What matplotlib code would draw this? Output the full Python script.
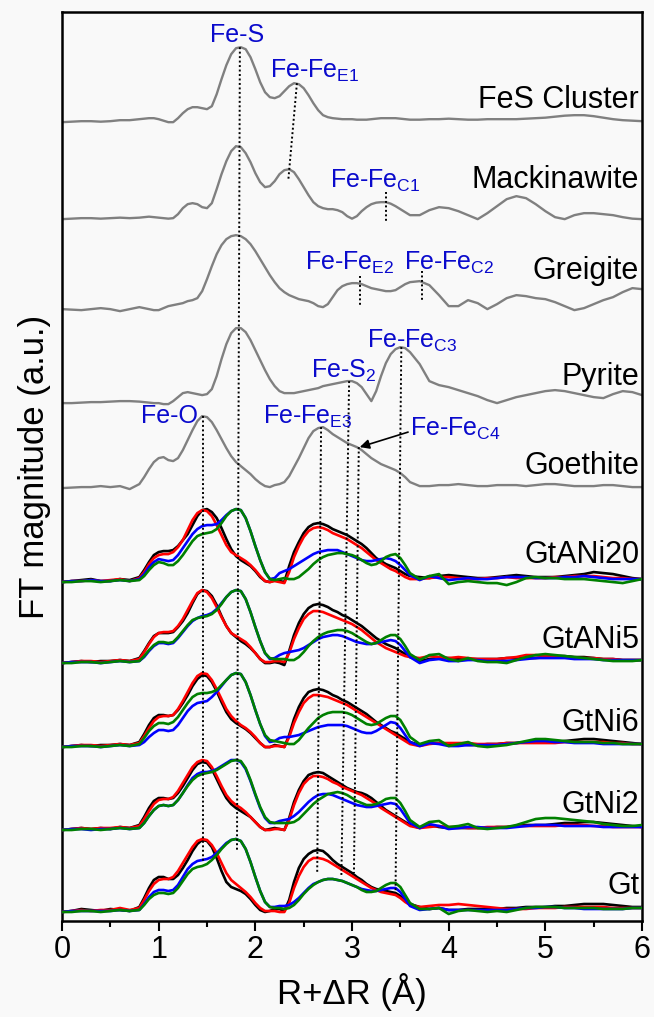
import numpy as np
import matplotlib.pyplot as plt

plt.rcParams['font.family'] = ['Liberation Sans', 'DejaVu Sans']
plt.rcParams['mathtext.fontset'] = 'custom'
plt.rcParams['mathtext.rm'] = 'Liberation Sans'
plt.rcParams['mathtext.it'] = 'Liberation Sans:italic'
plt.rcParams['mathtext.bf'] = 'Liberation Sans:bold'

# R + dR grid (finer where the features are)
r = np.round(np.concatenate([np.arange(0, 0.85, 0.1),
                             np.arange(0.85, 3.62, 0.05),
                             np.arange(3.7, 6.01, 0.1)]), 2)

# reference spectra, FT magnitude above own baseline (a.u.)
fes_cluster = ([0, 0.5, 1, 1, 0.5, 1, 2, 2, 3]
               + [3.5, 4, 4, 3, 1.5, 0, 0, 4, 9, 13, 15, 15, 14, 13, 16, 28]
               + [43, 57, 68, 74, 75, 73, 65, 53, 40, 30, 25, 24, 26, 31, 36, 39]
               + [38, 34, 27, 19, 12, 7, 5, 4, 3.5, 3, 3, 3, 2.5, 2.5, 2.5, 3]
               + [3.5, 4, 4, 4, 4, 3.5, 3, 2.5]
               + [2.5, 3, 3, 3.5, 3, 2.5, 2.5, 3, 3, 3, 3, 3.5, 4, 4.5, 5.5, 6.5, 7, 7, 6, 4.5, 3, 2, 1.5, 1])
mackinawite = ([0, 0.5, 1, 1, 0.5, 1, 1.5, 1, 1.5]
               + [2, 2.5, 2, 1.5, 1, 0.5, 1, 5, 11, 15, 16, 15, 12, 11, 16, 30]
               + [45, 58, 68, 73, 72, 66, 57, 46, 37, 32, 33, 38, 45, 49, 50, 47]
               + [40, 32, 24, 17, 13, 11, 10, 10, 9, 7, 3, 0.5, 3, 8, 12, 15]
               + [16.5, 17, 17, 15.5, 13, 10, 7, 4]
               + [4, 9, 12, 11, 8, 4, 0, 6, 13, 20, 23, 21, 15, 8, 2, 0, 4, 6, 6, 5, 4, 2, 0.5, 0])
greigite = ([0, -0.5, -1, 0, 1, 0, -2, 0, 2]
            + [1, 0, -1, -1, 1, 3, 4, 5, 6, 8, 9, 11, 18, 30, 43, 55]
            + [64, 70, 73, 74, 73, 70, 65, 58, 50, 42, 34, 27, 21, 17, 14, 12]
            + [10, 9, 8, 6, 3, 2, 5, 12, 19, 23, 25, 26, 26, 25, 23, 21]
            + [20, 19, 18, 18, 19, 22, 25, 27]
            + [28, 24, 14, 3, 3, 9, 6, 0, 5, 11, 14, 13, 11, 10, 7, 3, -1, 1, 5, 9, 12, 17, 21, 20])
pyrite = ([0, 0, 0.5, 1, 1, 1.5, 2, 2, 1.5]
          + [1, 0.5, 0, 0, -1, -1, 2, 6, 10, 11, 10, 9, 8, 9, 14, 27]
          + [44, 59, 70, 75, 75, 71, 63, 53, 43, 33, 24, 17, 12, 10, 10, 10]
          + [11, 12, 13, 14, 15, 17, 18, 19, 20, 21, 22, 22, 20, 16, 9, 2]
          + [12, 27, 40, 49, 54, 56, 55, 51]
          + [39, 22, 18, 16, 13, 10, 7, 3, 0, 3, 6, 8, 10, 12, 13, 12, 10, 8, 6, 5, 9, 12, 11, 8])
goethite = ([0, 0.5, 1, 1, 2, 1, 2, -1, 4]
            + [11, 19, 26, 30, 31, 28, 27, 30, 38, 48, 58, 67, 72, 71, 66, 58]
            + [49, 40, 32, 26, 22, 18, 14, 9, 5, 2, 1, 3, 4, 6, 12, 21]
            + [30, 40, 50, 57, 60, 61, 58, 54, 51, 48, 45, 43, 41, 38, 34, 30]
            + [27, 24, 22, 20, 18, 15, 11, 6]
            + [2, 2, 3, 3, 4, 3, 2, 2, 3, 3, 3, 2, 3, 4, 4, 3, 2, 2, 2, 3, 3, 2, 1, 1])

ref_names = ['FeS Cluster', 'Mackinawite', 'Greigite', 'Pyrite', 'Goethite']
ref_curves = [fes_cluster, mackinawite, greigite, pyrite, goethite]

# samples: black, red, blue, green curves
gtani20_k = ([0, 1, 2, 3, 1, 1, 3, 2, 5]
             + [12, 20, 27, 30, 31, 31, 32, 36, 42, 48, 57, 66, 72, 73, 70, 64]
             + [54, 43, 33, 26, 22, 19, 16, 11, 5, 1, 0, 2, 1, 0, 16, 30]
             + [40, 49, 55, 58, 59, 58, 56, 53, 51, 49, 47, 44, 41, 38, 34, 29]
             + [24, 21, 18, 16, 14, 11, 8, 6]
             + [5, 4, 6, 7, 6, 5, 4, 4, 5, 6, 7, 6, 5, 5, 5, 6, 7, 8, 10, 9, 8, 6, 4, 3])
gtani20_r = ([0, 1, 1, 2, 1, 2, 3, 1, 4]
             + [10, 18, 24, 27, 28, 28, 30, 35, 42, 52, 62, 69, 72, 71, 66, 57]
             + [47, 37, 30, 27, 24, 21, 17, 12, 6, 1, 0, 1, 0, -1, 10, 25]
             + [36, 45, 51, 54, 55, 54, 52, 49, 47, 45, 43, 40, 37, 34, 30, 26]
             + [22, 19, 16, 13, 11, 8, 5, 3]
             + [3, 4, 5, 5, 4, 3, 3, 4, 4, 5, 4, 4, 4, 4, 5, 5, 6, 6, 6, 5, 4, 4, 3, 3])
gtani20_b = ([0, 1, 1, 2, 1, 1, 2, 1, 3]
             + [8, 15, 20, 23, 22, 21, 22, 27, 34, 41, 48, 53, 56, 57, 57, 58]
             + [62, 67, 71, 73, 72, 64, 51, 36, 22, 10, 3, 4, 9, 11, 13, 16]
             + [19, 22, 25, 28, 30, 31, 32, 32, 32, 30, 28, 26, 24, 22, 21, 21]
             + [22, 23, 24, 23, 21, 17, 12, 7]
             + [2, 6, 4, 2, 3, 4, 3, 3, 4, 5, 5, 5, 4, 4, 4, 5, 5, 6, 5, 4, 3, 3, 3, 3])
gtani20_g = ([0, 0, 1, 1, 0, 1, 2, 1, 2]
             + [6, 12, 17, 20, 19, 17, 17, 21, 27, 34, 41, 46, 48, 49, 50, 53]
             + [59, 66, 71, 73, 72, 64, 51, 36, 22, 10, 3, 2, 3, 4, 3, 3]
             + [5, 9, 13, 18, 22, 25, 27, 28, 29, 29, 28, 27, 25, 22, 19, 17]
             + [18, 21, 25, 27, 28, 24, 17, 9]
             + [3, 6, 8, -2, 0, 1, 0, -1, -1, -3, 0, 4, 5, 4, 4, 3, 3, 3, 2, 1, 0, -1, 1, 3])

gtani5_k = ([0, 1, 2, 1, 2, 2, 3, 2, 5]
            + [12, 20, 27, 30, 30, 30, 31, 36, 42, 50, 60, 69, 73, 72, 67, 58]
            + [47, 37, 30, 26, 22, 19, 15, 10, 4, 0, 0, 1, 0, -2, 12, 28]
            + [40, 49, 55, 58, 59, 58, 56, 53, 51, 48, 46, 43, 40, 37, 33, 29]
            + [25, 22, 19, 17, 15, 12, 9, 6]
            + [2, 4, 5, 5, 4, 4, 4, 4, 4, 5, 5, 5, 5, 6, 7, 7, 6, 6, 5, 4, 4, 3, 3, 3])
gtani5_r = ([0, 1, 2, 2, 1, 2, 3, 2, 4]
            + [11, 19, 26, 30, 31, 31, 32, 37, 44, 53, 62, 70, 73, 71, 65, 56]
            + [46, 37, 30, 27, 24, 21, 16, 10, 4, 1, 1, 2, 2, 1, 10, 24]
            + [35, 44, 49, 52, 52, 51, 49, 47, 45, 43, 41, 39, 36, 33, 29, 25]
            + [21, 18, 15, 13, 11, 9, 7, 6]
            + [5, 7, 6, 5, 6, 5, 4, 4, 4, 5, 6, 8, 8, 7, 6, 6, 5, 5, 5, 4, 4, 3, 3, 3])
gtani5_b = ([0, 1, 1, 1, 0, 1, 2, 1, 2]
            + [6, 12, 17, 20, 20, 19, 20, 25, 31, 37, 42, 45, 47, 48, 50, 54]
            + [60, 66, 71, 73, 72, 64, 51, 36, 22, 10, 4, 5, 8, 10, 11, 12]
            + [13, 15, 18, 21, 24, 26, 27, 28, 28, 27, 25, 23, 21, 20, 19, 19]
            + [20, 21, 22, 23, 22, 18, 12, 6]
            + [0, 3, 4, 2, 2, 3, 3, 2, 2, 2, 3, 4, 5, 5, 5, 5, 4, 4, 4, 3, 3, 3, 3, 3])
gtani5_g = ([0, 0, 1, 1, 0, 1, 2, 1, 2]
            + [7, 13, 18, 21, 21, 20, 21, 26, 32, 38, 43, 45, 46, 47, 49, 53]
            + [59, 66, 71, 73, 72, 64, 51, 36, 22, 10, 5, 4, 4, 4, 3, 3]
            + [6, 11, 17, 22, 26, 29, 31, 32, 33, 33, 32, 30, 27, 24, 21, 19]
            + [20, 23, 26, 28, 28, 24, 17, 9]
            + [3, 8, 9, 4, 2, 5, 2, 1, 1, 0, 3, 6, 8, 9, 8, 7, 6, 5, 4, 3, 2, 2, 2, 3])

gtni6_k = ([0, 1, 2, 1, 2, 2, 3, 2, 5]
           + [13, 22, 29, 32, 32, 31, 32, 37, 44, 52, 61, 68, 72, 71, 65, 56]
           + [45, 35, 28, 24, 21, 18, 14, 9, 4, 0, 0, 2, 1, 0, 12, 28]
           + [40, 49, 55, 57, 58, 57, 55, 52, 50, 47, 45, 42, 39, 36, 33, 29]
           + [25, 22, 19, 16, 14, 11, 8, 5]
           + [2, 4, 4, 3, 3, 2, 2, 3, 3, 4, 4, 5, 5, 5, 5, 6, 7, 8, 8, 7, 6, 5, 4, 3])
gtni6_r = ([0, 1, 2, 2, 1, 2, 3, 2, 4]
           + [11, 19, 26, 30, 31, 31, 32, 38, 46, 55, 64, 71, 74, 73, 67, 58]
           + [48, 38, 31, 26, 22, 19, 15, 10, 4, 0, 0, 1, 1, 0, 10, 24]
           + [35, 44, 49, 52, 52, 51, 50, 48, 46, 44, 42, 39, 36, 33, 30, 27]
           + [24, 21, 18, 15, 12, 9, 6, 3]
           + [1, 3, 4, 4, 4, 4, 3, 3, 3, 4, 4, 4, 4, 4, 4, 5, 5, 5, 5, 5, 4, 4, 3, 3])
gtni6_b = ([0, 1, 1, 1, 0, 1, 2, 1, 2]
           + [5, 10, 14, 17, 17, 16, 17, 22, 29, 36, 41, 44, 45, 46, 50, 55]
           + [61, 67, 72, 74, 73, 65, 52, 37, 23, 11, 5, 6, 9, 10, 10, 11]
           + [12, 14, 16, 18, 20, 21, 22, 22, 22, 22, 21, 19, 17, 15, 14, 14]
           + [16, 19, 22, 25, 24, 19, 12, 5]
           + [1, 4, 3, 1, 1, 2, 2, 2, 2, 3, 4, 5, 6, 6, 5, 5, 4, 4, 4, 3, 3, 3, 3, 3])
gtni6_g = ([0, 0, 1, 1, 0, 1, 2, 1, 3]
           + [9, 16, 21, 24, 24, 23, 25, 30, 37, 44, 50, 53, 54, 54, 55, 57]
           + [62, 67, 72, 74, 73, 65, 52, 37, 23, 12, 7, 6, 5, 4, 3, 3]
           + [7, 13, 19, 24, 29, 32, 34, 35, 35, 35, 34, 32, 29, 26, 23, 22]
           + [23, 26, 29, 31, 31, 27, 19, 10]
           + [3, 6, 7, 1, 3, 5, 1, 0, 1, 2, 4, 6, 8, 8, 7, 6, 5, 5, 5, 4, 4, 3, 3, 3])

gtni2_k = ([0, 1, 2, 1, 2, 1, 3, 2, 5]
           + [13, 22, 29, 32, 32, 31, 32, 37, 44, 52, 60, 66, 68, 67, 61, 51]
           + [41, 32, 26, 22, 19, 16, 13, 8, 3, 0, 1, 2, 1, 0, 12, 28]
           + [40, 49, 55, 57, 58, 57, 54, 51, 48, 45, 42, 40, 38, 37, 35, 32]
           + [28, 24, 20, 17, 14, 11, 8, 5]
           + [2, 5, 3, 2, 2, 2, 2, 2, 3, 3, 4, 5, 5, 5, 6, 7, 7, 8, 8, 7, 6, 5, 4, 3])
gtni2_r = ([0, 1, 2, 1, 2, 2, 3, 2, 4]
           + [11, 19, 26, 30, 31, 31, 33, 39, 47, 55, 63, 68, 70, 69, 63, 54]
           + [44, 35, 29, 25, 22, 18, 13, 8, 3, 0, 0, 1, 1, 0, 10, 25]
           + [37, 46, 51, 54, 54, 53, 51, 48, 46, 43, 41, 39, 37, 35, 32, 29]
           + [26, 22, 19, 16, 13, 10, 7, 4]
           + [2, 3, 4, 3, 3, 2, 2, 3, 3, 3, 4, 4, 4, 4, 4, 5, 5, 5, 4, 4, 3, 3, 3, 3])
gtni2_b = ([0, 1, 1, 0, 1, 1, 2, 1, 2]
           + [7, 14, 20, 24, 25, 24, 25, 30, 37, 45, 52, 56, 58, 58, 59, 61]
           + [64, 67, 70, 70, 68, 61, 49, 35, 22, 12, 7, 7, 9, 10, 11, 14]
           + [18, 23, 28, 32, 35, 36, 36, 35, 33, 31, 29, 27, 25, 24, 23, 23]
           + [24, 25, 26, 27, 26, 21, 14, 7]
           + [2, 6, 4, 1, 2, 3, 3, 2, 2, 2, 3, 4, 5, 5, 5, 4, 4, 4, 4, 3, 3, 3, 3, 3])
gtni2_g = ([0, 0, 1, 1, 0, 1, 2, 1, 2]
           + [7, 14, 20, 24, 25, 24, 25, 30, 37, 44, 50, 54, 56, 57, 58, 60]
           + [63, 66, 69, 70, 69, 62, 50, 36, 23, 13, 8, 7, 7, 7, 7, 8]
           + [11, 16, 21, 26, 30, 33, 36, 37, 38, 37, 35, 32, 29, 27, 25, 25]
           + [26, 28, 31, 32, 32, 27, 19, 10]
           + [3, 8, 9, 3, 4, 6, 2, 1, 2, 3, 5, 8, 11, 12, 12, 11, 10, 9, 8, 6, 5, 4, 4, 5])

gt_k = ([0, 1, 3, 2, 1, 3, 2, 1, 5]
        + [14, 24, 32, 35, 35, 33, 33, 37, 44, 52, 61, 68, 72, 71, 65, 54]
        + [41, 30, 25, 23, 21, 18, 13, 7, 2, 0, 1, 3, 3, 1, 12, 30]
        + [44, 53, 58, 61, 62, 61, 57, 52, 48, 45, 42, 39, 35, 32, 28, 25]
        + [23, 22, 21, 20, 19, 16, 12, 8]
        + [5, 3, 4, 2, 2, 3, 3, 3, 3, 4, 4, 5, 5, 5, 6, 6, 7, 8, 8, 8, 7, 6, 5, 5])
gt_r = ([0, 1, 2, 1, 2, 2, 4, 2, 4]
        + [12, 21, 28, 32, 33, 33, 35, 41, 49, 57, 65, 71, 73, 72, 67, 59]
        + [49, 39, 32, 28, 24, 20, 15, 9, 4, 1, 1, 1, 0, 0, 9, 24]
        + [36, 45, 51, 54, 54, 53, 51, 48, 45, 42, 39, 36, 33, 30, 27, 24]
        + [22, 20, 19, 18, 17, 14, 10, 7]
        + [5, 6, 7, 7, 8, 7, 6, 5, 4, 3, 3, 3, 4, 4, 4, 5, 5, 5, 5, 5, 4, 4, 4, 4])
gt_b = ([0, 1, 1, 1, 1, 1, 2, 1, 2]
        + [8, 15, 20, 22, 22, 21, 22, 27, 35, 43, 48, 51, 52, 53, 55, 59]
        + [64, 69, 72, 73, 71, 63, 50, 35, 21, 10, 5, 5, 6, 6, 7, 10]
        + [14, 19, 24, 28, 30, 32, 33, 33, 32, 31, 29, 27, 25, 23, 22, 21]
        + [21, 22, 23, 24, 24, 20, 13, 6]
        + [2, 3, 4, 2, 2, 2, 2, 2, 2, 2, 3, 4, 4, 5, 5, 4, 4, 3, 3, 3, 3, 3, 4, 4])
gt_g = ([0, 0, 1, 1, 0, 1, 2, 1, 2]
        + [7, 13, 17, 19, 19, 18, 19, 24, 31, 38, 43, 45, 46, 48, 52, 57]
        + [63, 68, 72, 73, 71, 63, 50, 35, 21, 10, 5, 4, 4, 3, 4, 7]
        + [12, 18, 23, 27, 30, 32, 33, 33, 32, 31, 29, 27, 25, 22, 20, 20]
        + [21, 24, 27, 29, 29, 25, 17, 9]
        + [3, 3, 4, -2, 1, 2, 1, 0, 1, 0, 2, 4, 5, 5, 5, 4, 4, 4, 4, 3, 3, 3, 4, 4])

sample_names = ['GtANi20', 'GtANi5', 'GtNi6', 'GtNi2', 'Gt']
sample_curves = [
    [gtani20_k, gtani20_r, gtani20_b, gtani20_g],
    [gtani5_k, gtani5_r, gtani5_b, gtani5_g],
    [gtni6_k, gtni6_r, gtni6_b, gtni6_g],
    [gtni2_k, gtni2_r, gtni2_b, gtni2_g],
    [gt_k, gt_r, gt_b, gt_g],
]
for c in ref_curves + [s for grp in sample_curves for s in grp]:
    assert len(c) == len(r), len(c)

# stacking: baseline of each trace and height of its name
ref_offsets = [799, 702, 612, 518, 433]
ref_label_y = [821, 741, 650, 544, 455]
sample_offsets = [339, 258, 174, 91, 9]
sample_label_y = [366, 281, 198, 116, 35]
line_colors = ['black', '#ff0000', '#0000ff', '#008000']

bg = '#f9f9f9'
fig = plt.figure(figsize=(6.54, 10.17), dpi=100, facecolor=bg)
ax = fig.add_axes([0.0948, 0.0944, 0.8869, 0.8936], facecolor=bg)

for name, curve, off, ly in zip(ref_names, ref_curves, ref_offsets, ref_label_y):
    ax.plot(r, np.array(curve) + off, color='#808080', lw=1.7, zorder=2)
    ax.text(5.97, ly, name, ha='right', va='center', fontsize=22)

for name, grp, off, ly in zip(sample_names, sample_curves, sample_offsets, sample_label_y):
    for curve, col in zip(grp, line_colors):
        ax.plot(r, np.array(curve) + off, color=col, lw=1.9, zorder=3)
    ax.text(5.97, ly, name, ha='right', va='center', fontsize=22)

# dotted guide lines (x0, y0, x1, y1)
guides = [(1.84, 874, 1.81, 69), (1.46, 505, 1.46, 58), (2.43, 838, 2.34, 740),
          (3.35, 729, 3.35, 699), (3.08, 645, 3.08, 616), (3.72, 650, 3.72, 620),
          (3.51, 574, 3.45, 29), (2.97, 540, 2.89, 46), (3.07, 474, 3.02, 48),
          (2.68, 494, 2.64, 49)]
for x0, y0, x1, y1 in guides:
    ax.plot([x0, x1], [y0, y1], color='black', lw=1.4, ls=(0, (1, 1.3)), zorder=4)

blue = '#0a0acc'
ann = [(1.81, 879, 'Fe-S', 'center'),
       (2.15, 843, 'Fe-Fe$_{\\mathrm{E1}}$', 'left'),
       (2.77, 733, 'Fe-Fe$_{\\mathrm{C1}}$', 'left'),
       (2.51, 651, 'Fe-Fe$_{\\mathrm{E2}}$', 'left'),
       (3.54, 651, 'Fe-Fe$_{\\mathrm{C2}}$', 'left'),
       (3.15, 573, 'Fe-Fe$_{\\mathrm{C3}}$', 'left'),
       (2.58, 543, 'Fe-S$_{\\mathrm{2}}$', 'left'),
       (0.82, 498, 'Fe-O', 'left'),
       (2.08, 497, 'Fe-Fe$_{\\mathrm{E3}}$', 'left'),
       (3.60, 485, 'Fe-Fe$_{\\mathrm{C4}}$', 'left')]
for x, y, s, ha in ann:
    ax.text(x, y, s, color=blue, fontsize=18, ha=ha, va='baseline', zorder=5)

ax.annotate('', xy=(3.08, 474), xytext=(3.58, 489),
            arrowprops=dict(arrowstyle='-|>', color='black', lw=1.2,
                            mutation_scale=14, shrinkA=0, shrinkB=0))

ax.set_xlim(0, 6)
ax.set_ylim(0, 909)
ax.set_xticks(np.arange(0, 7, 1))
ax.set_xticks(np.arange(0.5, 6, 1), minor=True)
ax.set_yticks([])
ax.tick_params(axis='x', which='major', direction='out', length=7, width=1.5,
               labelsize=22, pad=3)
ax.tick_params(axis='x', which='minor', direction='out', length=4, width=1.5)
for sp in ax.spines.values():
    sp.set_linewidth(1.8)
ax.set_xlabel('R+\u0394R (\u00c5)', fontsize=25, labelpad=6)
ax.set_ylabel('FT magnitude (a.u.)', fontsize=25, labelpad=8)

fig.savefig('out.png', dpi=100, facecolor=bg)
